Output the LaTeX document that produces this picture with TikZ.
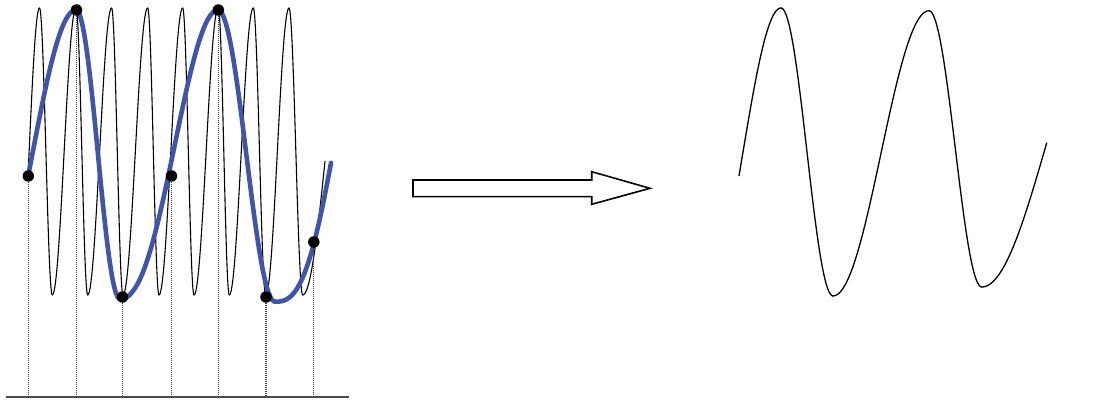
\documentclass[tikz,border=0pt]{standalone}
\usetikzlibrary{calc}
\definecolor{slowblue}{RGB}{64,84,172}
\tikzset{
  fastwave/.style={black, line width=1.1pt, line cap=round, line join=round},
  slowwave/.style={slowblue, line width=4.6pt, line cap=round, line join=round},
  outwave/.style={black, line width=1.3pt, line cap=round, line join=round},
  sampledot/.style={circle, fill=black, inner sep=0pt, minimum size=11.5pt},
  sampleline/.style={black!75, line width=1.1pt, dash pattern=on 1pt off 1pt},
  baseline/.style={black!70, line width=2pt},
  blockarrow/.style={black, line width=1.6pt, fill=white, line join=miter}
}
% half-cosine segment from extreme (xa,ya) to extreme (xb,yb), drawn on [lo,hi], warp exponent p
\newcommand{\cosseg}[8]{%
  \draw[#8] plot[domain=#6:#7, samples=40, variable=\t]
    ({\t}, {(#2+#4)/2 + (#2-#4)/2*cos(180*(max((\t-#1)/(#3-#1),0.0001))^#5)});%
}
\begin{document}
\begin{tikzpicture}[x=1pt, y=-1pt]
\useasboundingbox (0,0) rectangle (1120,401);
% fast (original) signal
\cosseg{18.76}{295}{39.5}{8}{1}{28}{39.5}{fastwave}
\foreach \xa/\ya/\xb/\yb in {39.5/8/52.3/295, 52.3/295/76/8, 76/8/87.7/295, 87.7/295/111.6/8,
  111.6/8/123/295, 123/295/147.7/8, 147.7/8/159/295, 159/295/182.7/8, 182.7/8/194/295,
  194/295/218.3/8, 218.3/8/229.3/295, 229.3/295/253.3/8, 253.3/8/265.7/295,
  265.7/295/289/8, 289/8/302.7/295}{
  \cosseg{\xa}{\ya}{\xb}{\yb}{1}{\xa}{\xb}{fastwave}
}
\cosseg{302.7}{295}{349.3}{8}{1}{302.7}{325}{fastwave}
% aliased (slow) signal
\cosseg{-11.4}{299}{76}{10}{1}{28}{76}{slowwave}
\cosseg{76}{10}{120}{299}{1}{76}{120}{slowwave}
\cosseg{120}{299}{218}{10}{1.12}{120}{218}{slowwave}
\cosseg{218}{10}{275}{301.7}{1}{218}{275}{slowwave}
\cosseg{275}{301.7}{370.4}{10}{1.36}{275}{331}{slowwave}
% baseline
\coordinate (bl) at (6,397);
\coordinate (br) at (349,397);
% samples
\foreach \i/\sx/\sy in {1/28.3/176, 2/76.5/10, 3/122.5/297, 4/171.5/176, 5/218.3/10, 6/266/297, 7/313.8/242}{
  \coordinate (b\i) at (\sx,397);
  \draw[sampleline] (\sx,\sy) -- (b\i);
  \node[sampledot] (s\i) at (\sx,\sy) {};
}
\draw[baseline] (bl) -- (br);
% block arrow
\draw[blockarrow] (413,180) -- (591.7,180) -- (591.7,171.7) -- (650,188.3)
  -- (591.7,204.3) -- (591.7,196.7) -- (413,196.7) -- cycle;
% reconstructed signal
\cosseg{705}{296}{781}{8}{1}{739}{781}{outwave}
\cosseg{781}{8}{833}{296}{1}{781}{833}{outwave}
\cosseg{833}{296}{929}{10.7}{1}{833}{929}{outwave}
\cosseg{929}{10.7}{981.7}{287}{1}{929}{981.7}{outwave}
\cosseg{981.7}{287}{1108.5}{10}{1}{981.7}{1046.7}{outwave}
\end{tikzpicture}
\end{document}
